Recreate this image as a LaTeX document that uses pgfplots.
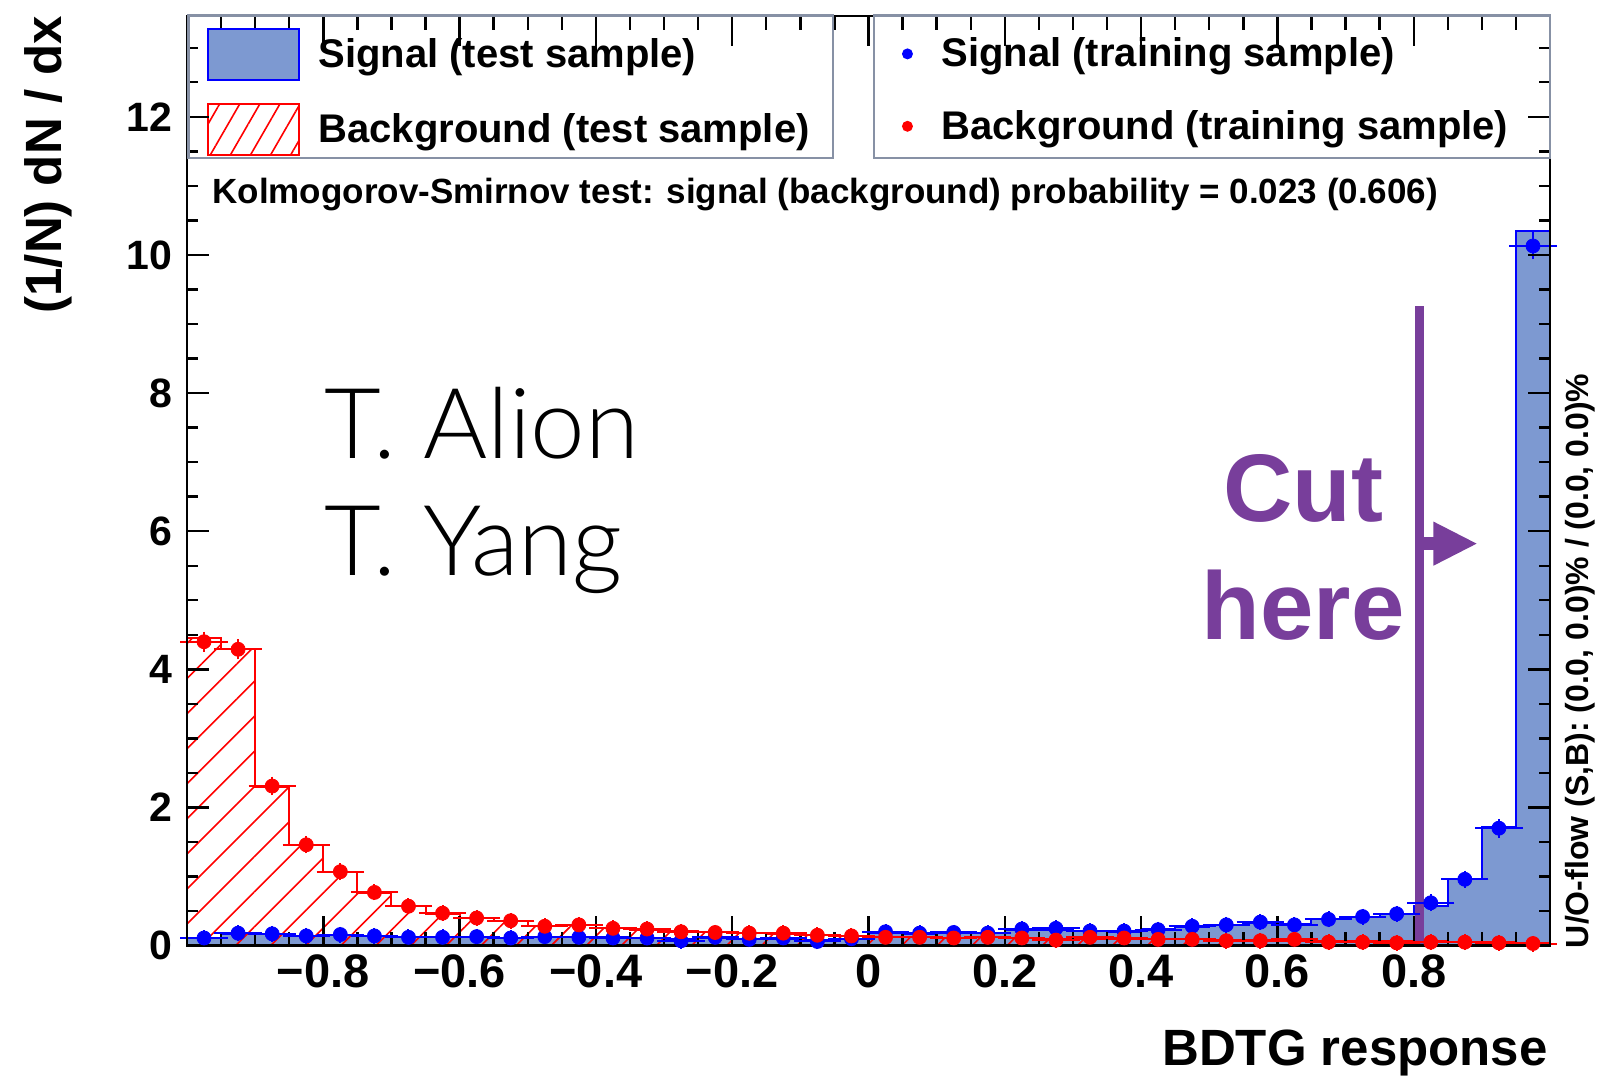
\documentclass[border=0pt]{standalone}
\usepackage{fontspec}
\setmainfont{Liberation Sans}
\newfontfamily\thinfont{Lato Light}
\usepackage{pgfplots}
\pgfplotsset{compat=1.18}
\usepackage{pgfplotstable}
\usetikzlibrary{patterns.meta}
\definecolor{sigfill}{RGB}{125,153,209}
\definecolor{cutpurple}{RGB}{120,62,155}
\definecolor{legframe}{RGB}{135,145,165}
\newcommand\fs[1]{\fontsize{#1}{#1}\selectfont\bfseries}

% training samples: bin centre, value, x error (half bin), y error
\pgfplotstableread{
x y ex ey
-0.975 0.11 0.025 0.02
-0.925 0.18 0.025 0.02
-0.875 0.17 0.025 0.02
-0.825 0.14 0.025 0.02
-0.775 0.16 0.025 0.02
-0.725 0.14 0.025 0.02
-0.675 0.12 0.025 0.02
-0.625 0.12 0.025 0.02
-0.575 0.13 0.025 0.02
-0.525 0.11 0.025 0.02
-0.475 0.13 0.025 0.02
-0.425 0.12 0.025 0.02
-0.375 0.11 0.025 0.02
-0.325 0.11 0.025 0.02
-0.275 0.07 0.025 0.02
-0.225 0.12 0.025 0.02
-0.175 0.09 0.025 0.02
-0.125 0.11 0.025 0.02
-0.075 0.06 0.025 0.02
-0.025 0.10 0.025 0.02
0.025 0.20 0.025 0.02
0.075 0.18 0.025 0.02
0.125 0.19 0.025 0.02
0.175 0.18 0.025 0.02
0.225 0.24 0.025 0.02
0.275 0.25 0.025 0.02
0.325 0.21 0.025 0.02
0.375 0.21 0.025 0.02
0.425 0.23 0.025 0.02
0.475 0.28 0.025 0.02
0.525 0.30 0.025 0.02
0.575 0.34 0.025 0.02
0.625 0.30 0.025 0.02
0.675 0.38 0.025 0.02
0.725 0.42 0.025 0.02
0.775 0.46 0.025 0.02
0.825 0.62 0.025 0.03
0.875 0.96 0.025 0.03
0.925 1.70 0.025 0.04
0.975 10.13 0.025 0.10
}\sigT

\pgfplotstableread{
x y ex ey
-0.975 4.40 0.025 0.05
-0.925 4.29 0.025 0.05
-0.875 2.31 0.025 0.04
-0.825 1.46 0.025 0.03
-0.775 1.07 0.025 0.03
-0.725 0.77 0.025 0.02
-0.675 0.57 0.025 0.02
-0.625 0.47 0.025 0.02
-0.575 0.40 0.025 0.02
-0.525 0.36 0.025 0.02
-0.475 0.28 0.025 0.02
-0.425 0.30 0.025 0.02
-0.375 0.25 0.025 0.02
-0.325 0.24 0.025 0.02
-0.275 0.20 0.025 0.02
-0.225 0.19 0.025 0.02
-0.175 0.18 0.025 0.02
-0.125 0.18 0.025 0.02
-0.075 0.15 0.025 0.02
-0.025 0.14 0.025 0.02
0.025 0.12 0.025 0.02
0.075 0.12 0.025 0.02
0.125 0.11 0.025 0.02
0.175 0.12 0.025 0.02
0.225 0.11 0.025 0.02
0.275 0.08 0.025 0.02
0.325 0.12 0.025 0.02
0.375 0.11 0.025 0.02
0.425 0.09 0.025 0.02
0.475 0.09 0.025 0.02
0.525 0.07 0.025 0.02
0.575 0.07 0.025 0.02
0.625 0.09 0.025 0.02
0.675 0.05 0.025 0.02
0.725 0.05 0.025 0.02
0.775 0.04 0.025 0.02
0.825 0.05 0.025 0.02
0.875 0.05 0.025 0.02
0.925 0.04 0.025 0.02
0.975 0.03 0.025 0.02
}\bkgT

\pgfplotsset{
  base/.style={
    scale only axis, width=681.5pt, height=464.8pt,
    xmin=-1, xmax=1, ymin=0, ymax=13.46,
    at={(0pt,0pt)}, anchor=south west,
    axis on top,
    axis line style={line width=1.4pt, black},
    every tick/.style={black, line width=1.2pt},
    tick align=inside, tick pos=both,
  }
}

\begin{document}
\begin{tikzpicture}
% ---------- axis 1 : test-sample histograms, x ticks ----------
\begin{axis}[base,
  xtick={-0.8,-0.6,-0.4,-0.2,0,0.2,0.4,0.6,0.8},
  xticklabels={−0.8,−0.6,−0.4,−0.2,0,0.2,0.4,0.6,0.8},
  minor xtick={-0.95,-0.9,-0.85,-0.75,-0.7,-0.65,-0.55,-0.5,-0.45,-0.35,-0.3,-0.25,-0.15,-0.1,-0.05,0.05,0.1,0.15,0.25,0.3,0.35,0.45,0.5,0.55,0.65,0.7,0.75,0.85,0.9,0.95},
  major tick length=15pt, minor tick length=7pt,
  ytick=\empty,
  xticklabel style={font=\fs{23.5}, yshift=-1.2pt},
  legend cell align=left,
  legend style={at={(0.0012,1)}, anchor=north west, draw=none, fill=none,
    inner xsep=9.2pt, inner ysep=6pt, row sep=10.7pt, font=\fs{20},
    nodes={inner sep=0pt},
    /tikz/every odd column/.append style={column sep=9pt}},
]
\addplot[const plot, draw=blue, line width=1pt, fill=sigfill,
  legend image code/.code={\draw[blue, line width=1pt, fill=sigfill] (0pt,-12.75pt) rectangle (45.5pt,12.75pt);}]
coordinates {(-1,0) (-1,0.11) (-0.95,0.17) (-0.9,0.17) (-0.85,0.14) (-0.8,0.15) (-0.75,0.14) (-0.7,0.12) (-0.65,0.12) (-0.6,0.13) (-0.55,0.11) (-0.5,0.13) (-0.45,0.12) (-0.4,0.12) (-0.35,0.11) (-0.3,0.09) (-0.25,0.11) (-0.2,0.10) (-0.15,0.10) (-0.1,0.08) (-0.05,0.10) (0,0.18) (0.05,0.17) (0.1,0.18) (0.15,0.18) (0.2,0.22) (0.25,0.23) (0.3,0.21) (0.35,0.20) (0.4,0.24) (0.45,0.27) (0.5,0.30) (0.55,0.33) (0.6,0.32) (0.65,0.38) (0.7,0.42) (0.75,0.46) (0.8,0.58) (0.85,0.97) (0.9,1.72) (0.95,10.35) (1,10.35) (1,0)};
\addlegendentry{Signal (test sample)}
\addplot[const plot, draw=red, line width=1pt,
  pattern={Lines[angle=45,distance=12.4pt,line width=0.8pt]}, pattern color=red,
  legend image code/.code={\draw[red, line width=1pt, pattern={Lines[angle=60,distance=8.7pt,line width=0.8pt]}, pattern color=red] (0pt,-12.75pt) rectangle (45.5pt,12.75pt);}]
coordinates {(-1,0) (-1,4.45) (-0.95,4.30) (-0.9,2.30) (-0.85,1.46) (-0.8,1.07) (-0.75,0.76) (-0.7,0.57) (-0.65,0.46) (-0.6,0.40) (-0.55,0.35) (-0.5,0.29) (-0.45,0.30) (-0.4,0.25) (-0.35,0.23) (-0.3,0.21) (-0.25,0.19) (-0.2,0.18) (-0.15,0.17) (-0.1,0.15) (-0.05,0.14) (0,0.12) (0.05,0.12) (0.1,0.11) (0.15,0.12) (0.2,0.11) (0.25,0.09) (0.3,0.10) (0.35,0.10) (0.4,0.09) (0.45,0.09) (0.5,0.08) (0.55,0.08) (0.6,0.07) (0.65,0.06) (0.7,0.06) (0.75,0.06) (0.8,0.06) (0.85,0.05) (0.9,0.05) (0.95,0.04) (1,0.04) (1,0)};
\addlegendentry{Background (test sample)}
\end{axis}

% ---------- axis 2 : training-sample points, y ticks ----------
\begin{axis}[base, clip=false,
  xtick=\empty,
  ytick={0,2,4,6,8,10,12},
  yticklabels={0,2,4,6,8,10,12},
  minor ytick={0.5,1,1.5,2.5,3,3.5,4.5,5,5.5,6.5,7,7.5,8.5,9,9.5,10.5,11,11.5,12.5,13},
  major tick length=11pt, minor tick length=5.5pt,
  yticklabel style={font=\fs{20.5}, xshift=-4pt},
  legend cell align=left,
  legend style={at={(0.5048,1)}, anchor=north west, draw=none, fill=none,
    inner xsep=10pt, inner ysep=6pt, row sep=10.7pt, font=\fs{20},
    nodes={inner sep=0pt},
    /tikz/every odd column/.append style={column sep=11pt}},
]
\addplot[cutpurple, line width=4.6pt, forget plot] coordinates {(0.8085,0) (0.8085,9.26)};
\draw[cutpurple, line width=6.5pt] (axis cs:0.8085,5.82) -- (axis cs:0.831,5.82);
\fill[cutpurple] (axis cs:0.8289,6.14) -- (axis cs:0.8923,5.82) -- (axis cs:0.8289,5.50) -- cycle;

\addplot[only marks, mark=*, mark size=3.5pt, blue,
  error bars/.cd, x dir=both, x explicit, y dir=both, y explicit,
  error bar style={line width=1pt, blue},
  error mark options={line width=1pt, mark size=3.3pt, blue},
  /pgfplots/legend image code/.code={\path[draw=none,fill=none] (0pt,-12.75pt) rectangle (12pt,12.75pt); \fill[blue, draw=none] (6pt,0pt) circle (2.75pt);}]
  table[x=x, y=y, x error=ex, y error=ey] {\sigT};
\addlegendentry{Signal (training sample)}
\addplot[only marks, mark=*, mark size=3.5pt, red,
  error bars/.cd, x dir=both, x explicit, y dir=both, y explicit,
  error bar style={line width=1pt, red},
  error mark options={line width=1pt, mark size=3.3pt, red},
  /pgfplots/legend image code/.code={\path[draw=none,fill=none] (0pt,-12.75pt) rectangle (12pt,12.75pt); \fill[red, draw=none] (6pt,0pt) circle (2.75pt);}]
  table[x=x, y=y, x error=ex, y error=ey] {\bkgT};
\addlegendentry{Background (training sample)}
\end{axis}

% legend frames
\draw[legframe, line width=1.2pt] (0.8pt,393.8pt) rectangle (323pt,465pt);
\draw[legframe, line width=1.2pt] (343.5pt,393.8pt) rectangle (681.5pt,465pt);

% texts
\node[anchor=base west, inner sep=0pt, font=\fs{17.5}] at (12.5pt,370.8pt)
  {Kolmogorov-Smirnov test: signal (background) probability = 0.023 (0.606)};
\node[anchor=base west, inner sep=0pt, font=\thinfont\fontsize{49}{49}\selectfont] at (68.6pt,243.3pt) {T. Alion};
\node[anchor=base west, inner sep=0pt, font=\thinfont\fontsize{49}{49}\selectfont] at (68.6pt,184.8pt) {T. Yang};
\node[anchor=base, inner sep=0pt, font=\fs{48}, text=cutpurple] at (558pt,211.8pt) {Cut};
\node[anchor=base, inner sep=0pt, font=\fs{48}, text=cutpurple] at (558pt,153.1pt) {here};
\node[anchor=base east, inner sep=0pt, font=\fs{25.5}] at (680.5pt,-60pt) {BDTG response};
\node[rotate=90, anchor=base east, inner sep=0pt, font=\fs{25.5}] at (-63pt,465pt) {(1/N) dN / dx};
\node[rotate=90, anchor=base west, inner sep=0pt, font=\fs{16}] at (700.5pt,-1.4pt) {U/O-flow (S,B): (0.0, 0.0)\% / (0.0, 0.0)\%};

\pgfresetboundingbox
\path[use as bounding box] (-93.5pt,-65.2pt) rectangle (706pt,472.8pt);
\end{tikzpicture}
\end{document}
